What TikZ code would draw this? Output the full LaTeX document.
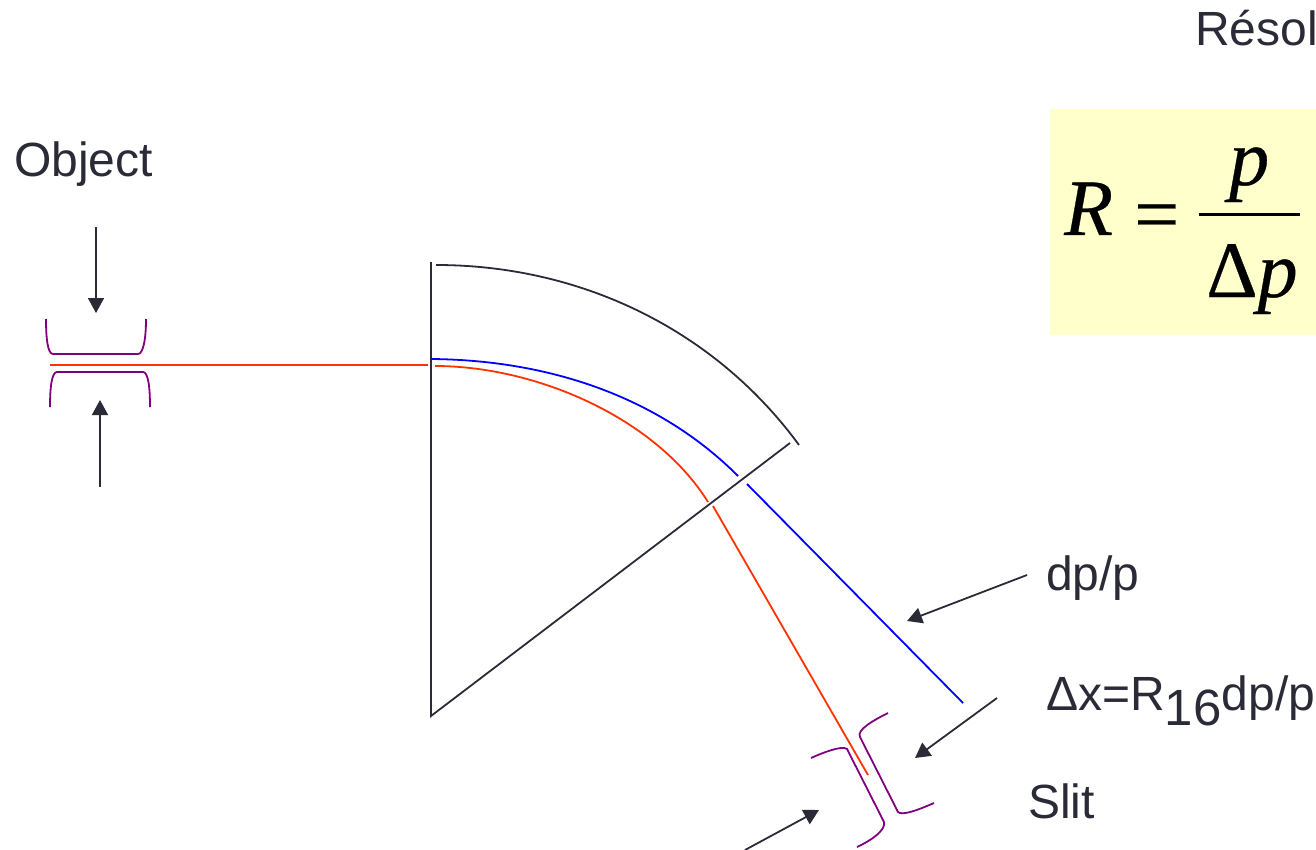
\documentclass[tikz,border=0pt]{standalone}
\usepackage{fontspec}
\setmainfont{Liberation Sans}
\newfontfamily\timesfont[FakeBold=0.4,ItalicFeatures={FakeBold=0.4}]{Liberation Serif}
\usetikzlibrary{
    arrows.meta
}
\definecolor{inkdark}{HTML}{2B2B38}
\definecolor{beamred}{HTML}{FF3300}
\definecolor{slitpurple}{HTML}{800080}
\definecolor{boxyellow}{HTML}{FFFFCC}
\tikzset{
    label/.style={inkdark,anchor=base west,inner sep=0pt,font=\fontsize{48}{50}\selectfont},
    formula/.style={black,anchor=base west,inner sep=0pt,font=\timesfont\fontsize{80}{85}\selectfont},
    magnet/.style={inkdark,line width=1.8pt},
    jaw/.style={slitpurple,line width=1.8pt},
    beam/.style={line width=1.8pt},
    pointer/.style={inkdark,line width=1.8pt,-{Triangle[length=15pt,width=16pt]}}
}

\begin{document}
\begin{tikzpicture}[x=1pt,y=-1pt]
\useasboundingbox (0,0) rectangle (1316,850);
\clip (0,0) rectangle (1316,850);

% Formula box
\fill[boxyellow] (1050,109) rectangle (1316,335);
\node[formula] (fR) at (1064,235) {\itshape R};
\node[formula] (feq) at (1134,241) {=};
\node[formula] (fp) at (1229,185) {\itshape p};
\node[formula] (fdp) at (1206,297) {Δ\itshape p};
\draw[black,line width=3pt] (1199,215) -- (1300,215);

% Titles
\node[label] (title) at (1195,46) {Résol};
\node[label] (object) at (14,177) {Object};
\node[label] (dpp) at (1046,590) {dp/p};
\node[label] (dx) at (1046,710) {Δx=R\raisebox{-15pt}{\fontsize{51}{50}\selectfont 16}dp/p};
\node[label] (slit) at (1028,818) {Slit};

% Magnet
\draw[magnet] (431,262) -- (431,716) -- (790,443);
\draw[magnet] (436,265) .. controls (580,265) and (714,329) .. (799,445);

% Blue trajectory
\draw[blue,beam] (431,359) .. controls (546,360) and (657,395) .. (738,476);
\draw[blue,beam] (747,484) -- (963,703);

% Red trajectory
\draw[beamred,beam] (50,365) -- (428,365);
\draw[beamred,beam] (435,366) .. controls (535,366) and (655,417) .. (708,502);
\draw[beamred,beam] (713,506) -- (868,775);

% Object slit
\draw[jaw] (46,319) .. controls (46,340) and (48,354) .. (53,354) -- (138,354) .. controls (143,354) and (146,340) .. (146,319);
\draw[jaw] (50,407) .. controls (50,386) and (52,372) .. (57,372) -- (143,372) .. controls (148,372) and (150,386) .. (150,407);

% Image slit
\draw[jaw] (888,713) .. controls (874,720) and (856,730) .. (860,737) -- (898,812) .. controls (902,816) and (918,810) .. (934,803);
\draw[jaw] (811,758) .. controls (822,753) and (842,745) .. (847,749) -- (884,822) .. controls (886,830) and (872,840) .. (857,847);

% Arrows
\coordinate (objtopA) at (96,227);
\coordinate (objtopB) at (96,313);
\coordinate (objbotA) at (100,487);
\coordinate (objbotB) at (100,400);
\coordinate (dppA) at (1027,575);
\coordinate (dppB) at (907,621);
\coordinate (dxA) at (997,698);
\coordinate (dxB) at (915,758);
\coordinate (slitA) at (745,850);
\coordinate (slitB) at (819,810);
\draw[pointer] (objtopA) -- (objtopB);
\draw[pointer] (objbotA) -- (objbotB);
\draw[pointer] (dppA) -- (dppB);
\draw[pointer] (dxA) -- (dxB);
\draw[pointer] (slitA) -- (slitB);

\end{tikzpicture}
\end{document}
